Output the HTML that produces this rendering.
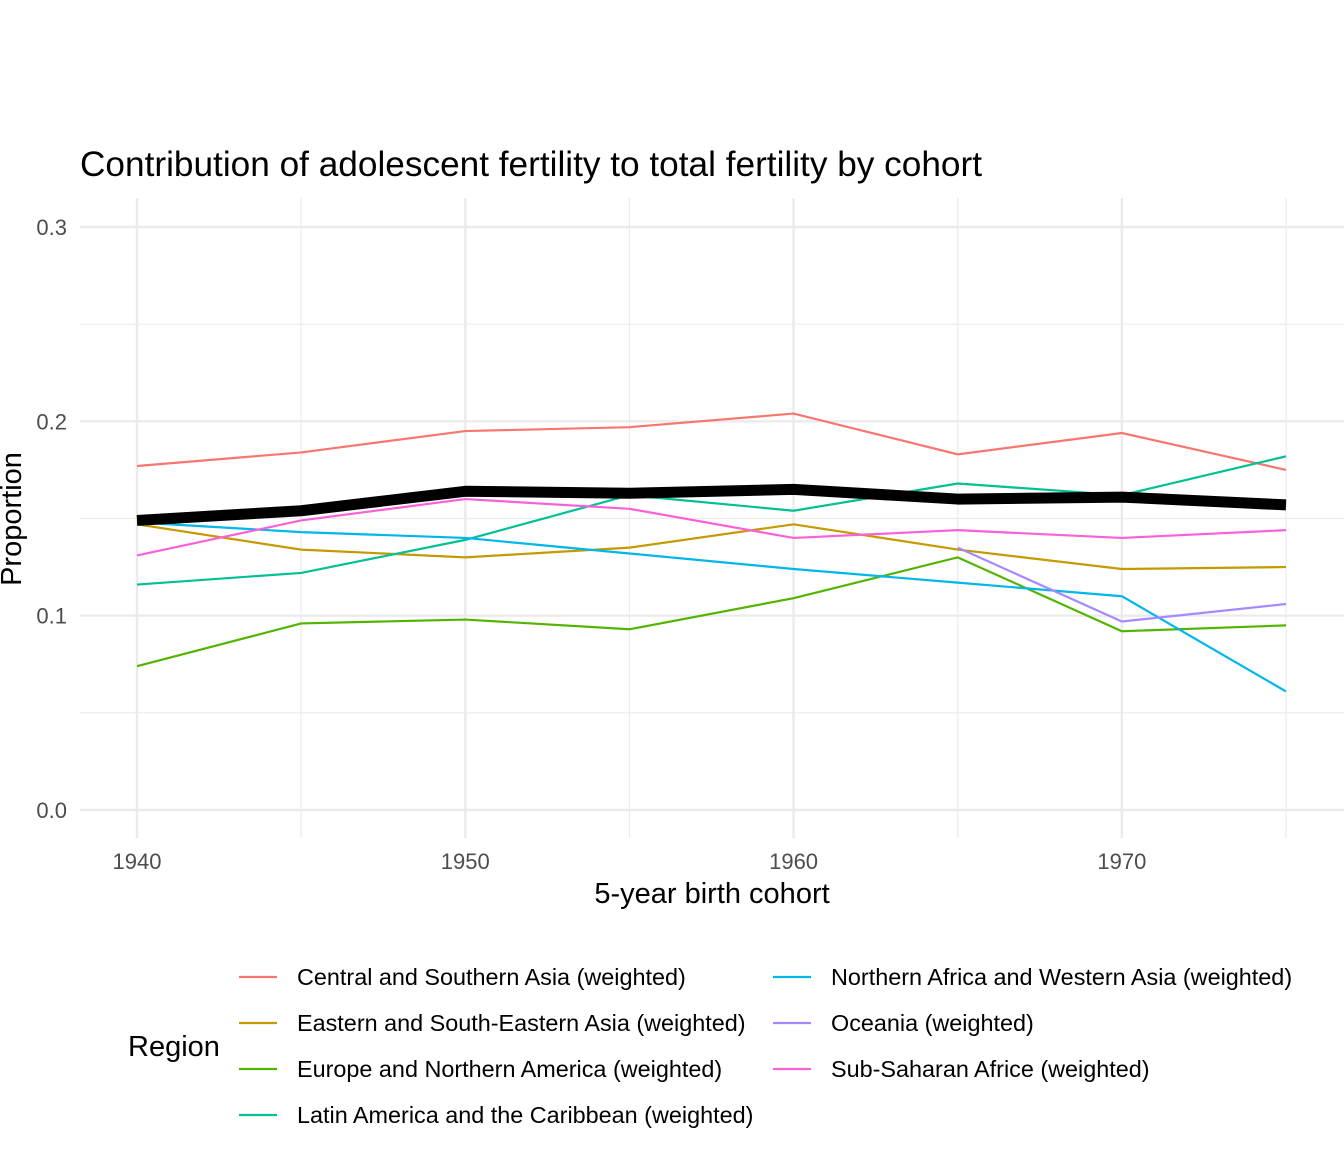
<!DOCTYPE html>
<html><head><meta charset="utf-8"><style>
body{margin:0;background:#fff;font-family:"Liberation Sans",Arial,sans-serif}
svg text{font-family:"Liberation Sans",Arial,sans-serif}
</style></head><body>
<svg id="chart" width="1344" height="1152" xmlns="http://www.w3.org/2000/svg">
<rect width="1344" height="1152" fill="#fff"/>
<text x="80" y="176" font-size="35" fill="#000" textLength="902" lengthAdjust="spacingAndGlyphs">Contribution of adolescent fertility to total fertility by cohort</text>
<g id="grid"></g><g id="series"></g><g id="axes"></g>
<text x="712" y="903" font-size="29" text-anchor="middle" fill="#000">5-year birth cohort</text>
<text transform="translate(21,519) rotate(-90)" font-size="29" text-anchor="middle" fill="#000">Proportion</text>
<text x="128" y="1056" font-size="29" fill="#000">Region</text>
<g id="legend"></g>
</svg>
<script>
const years=[1940,1945,1950,1955,1960,1965,1970,1975];
const central=[0.177,0.184,0.195,0.197,0.204,0.183,0.194,0.175];
const eastern=[0.147,0.134,0.130,0.135,0.147,0.134,0.124,0.125];
const europe=[0.074,0.096,0.098,0.093,0.109,0.130,0.092,0.095];
const latin=[0.116,0.122,0.139,0.162,0.154,0.168,0.162,0.182];
const nafrica=[0.148,0.143,0.140,0.132,0.124,0.117,0.110,0.061];
const oceania=[null,null,null,null,null,0.135,0.097,0.106];
const subsaharan=[0.131,0.149,0.160,0.155,0.140,0.144,0.140,0.144];
const overall=[0.149,0.154,0.164,0.163,0.165,0.160,0.161,0.157];
const yTicks=[0,0.1,0.2,0.3];
const yTickLabels=["0.0","0.1","0.2","0.3"];
const xTicks=[1940,1950,1960,1970];
const names=["Central and Southern Asia (weighted)","Eastern and South-Eastern Asia (weighted)","Europe and Northern America (weighted)","Latin America and the Caribbean (weighted)","Northern Africa and Western Asia (weighted)","Oceania (weighted)","Sub-Saharan Africe (weighted)"];
const colors=["#F8766D","#C49A00","#53B400","#00C094","#00B6EB","#A58AFF","#FB61D7"];
const allSeries=[central,eastern,europe,latin,nafrica,oceania,subsaharan];
const NS="http://www.w3.org/2000/svg";
const X=v=>137+(v-1940)*(1286-137)/35;
const Y=v=>810-v*(810-227)/0.3;
function mk(t,a,p){const e=document.createElementNS(NS,t);for(const k in a)e.setAttribute(k,a[k]);p.appendChild(e);return e;}
const grid=document.getElementById('grid'),axes=document.getElementById('axes'),ser=document.getElementById('series'),leg=document.getElementById('legend');
for(let v=0.05;v<0.3;v+=0.1){const l=mk('line',{x1:80,x2:1344,y1:Y(v),y2:Y(v),stroke:'#EBEBEB','stroke-width':1.2},grid);

}
for(let y=1945;y<=1975;y+=10){const l=mk('line',{x1:X(y),x2:X(y),y1:198,y2:838,stroke:'#EBEBEB','stroke-width':1.2},grid);

}
yTicks.forEach((v,i)=>{const l=mk('line',{x1:80,x2:1344,y1:Y(v),y2:Y(v),stroke:'#EBEBEB','stroke-width':2.4},grid);


const t=mk('text',{x:67,y:Y(v)+8,'font-size':22,'text-anchor':'end',fill:'#4D4D4D'},axes);t.textContent=yTickLabels[i];

});
xTicks.forEach(v=>{const l=mk('line',{x1:X(v),x2:X(v),y1:198,y2:838,stroke:'#EBEBEB','stroke-width':2.4},grid);


const t=mk('text',{x:X(v),y:869,'font-size':22,'text-anchor':'middle',fill:'#4D4D4D'},axes);t.textContent=v;

});
function path(arr){let d='',s=false;arr.forEach((v,i)=>{if(v==null){s=false;return;}d+=(s?'L':'M')+X(years[i])+','+Y(v);s=true;});return d;}
allSeries.forEach((a,i)=>{const p=mk('path',{d:path(a),fill:'none',stroke:colors[i],'stroke-width':2.2},ser);

});
const op=mk('path',{d:path(overall),fill:'none',stroke:'#000','stroke-width':11,'stroke-linejoin':'round'},ser);


names.forEach((n,i)=>{const col=i<4?0:1,row=i<4?i:i-4;const x=col?773:239,y=977+row*46;
const g=mk('g',{},leg);


mk('line',{x1:x,x2:x+38,y1:y,y2:y,stroke:colors[i],'stroke-width':2.2},g);
const t=mk('text',{x:x+58,y:y+8,'font-size':23.4,fill:'#000'},g);t.textContent=n;});
</script>
</body></html>
